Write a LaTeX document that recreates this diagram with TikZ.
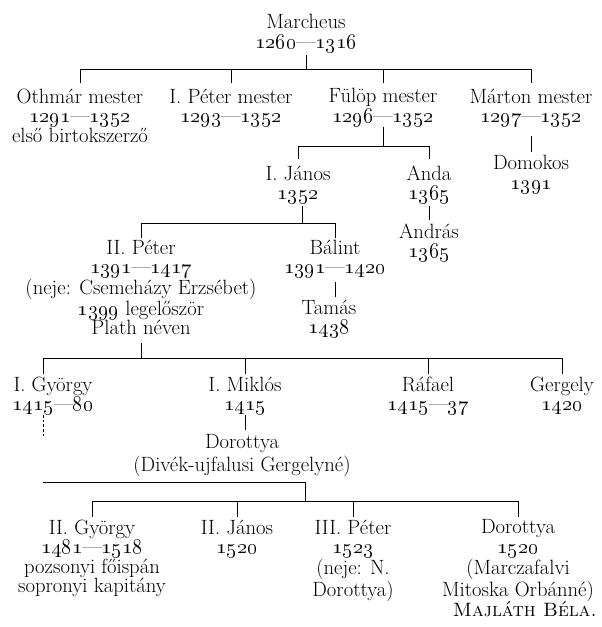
\RequirePackage{fix-cm}
\documentclass[tikz,border=0pt]{standalone}
\usepackage{tikz}

\newcommand\onum[1]{{\fontsize{15.8}{14.6}\selectfont\oldstylenums{#1}}}
\newcommand\yrspan[2]{\onum{#1}---\onum{#2}}

\tikzset{
  person/.style={anchor=north, yshift=10.22pt, align=center, inner sep=0pt,
    font=\fontsize{15.5}{14.6}\selectfont},
  link/.style={line width=0.6pt},
}

\begin{document}
\begin{tikzpicture}[x=0.75pt,y=0.75pt,yscale=-1,xscale=1]
\useasboundingbox (0,0) rectangle (601,627);

% Text Node
\node [person] (marcheus) at (306,28) {\strut Marcheus\\\yrspan{1260}{1316}};
% Text Node
\node [person] (othmar) at (80,102) {\strut Othmár mester\\\yrspan{1291}{1352}\\első birtokszerző};
\node [person] (peterI) at (231,102) {\strut I. Péter mester\\\yrspan{1293}{1352}};
\node [person] (fulop) at (383,102) {\strut Fülöp mester\\\yrspan{1296}{1352}};
\node [person] (marton) at (531,102) {\strut Márton mester\\\yrspan{1297}{1352}};
% Text Node
\node [person] (domokos) at (531,169) {\strut Domokos\\\onum{1391}};
\node [person] (janosI) at (298,179) {\strut I. János\\\onum{1352}};
\node [person] (anda) at (429,179) {\strut Anda\\\onum{1365}};
\node [person] (andras) at (429,237) {\strut András\\\onum{1365}};
% Text Node
\node [person] (peterII) at (141,253) {\strut II. Péter\\\yrspan{1391}{1417}\\(neje: Csemeházy Erzsébet)\\\onum{1399} legelőször\\Plath néven};
\node [person] (balint) at (335,253) {\strut Bálint\\\yrspan{1391}{1420}};
\node [person] (tamas) at (329,313) {\strut Tamás\\\onum{1438}};
% Text Node
\node [person] (gyorgyI) at (53,390) {\strut I. György\\\yrspan{1415}{80}};
\node [person] (miklos) at (245,390) {\strut I. Miklós\\\onum{1415}};
\node [person] (rafael) at (428,390) {\strut Ráfael\\\yrspan{1415}{37}};
\node [person] (gergely) at (562,390) {\strut Gergely\\\onum{1420}};
\node [person] (dorottyaI) at (242,448) {\strut Dorottya\\(Divék-ujfalusi Gergelyné)};
% Text Node
\node [person] (gyorgyII) at (92,533) {\strut II. György\\\yrspan{1481}{1518}\\pozsonyi főispán\\sopronyi kapitány};
\node [person] (janosII) at (237,533) {\strut II. János\\\onum{1520}};
\node [person] (peterIII) at (353,533) {\strut III. Péter\\\onum{1523}\\(neje: N.\\Dorottya)};
\node [person] (dorottyaII) at (518,533) {\strut Dorottya\\\onum{1520}\\(Marczafalvi\\Mitoska Orbánné)};
% Text Node
\node [person, anchor=north east, font=\fontsize{14.5}{14.6}\selectfont] (signature) at (597,615) {\strut\textsc{Majláth Béla.}};

% levels of the bars
\coordinate (barA) at (0,69);
\coordinate (barB) at (0,146);
\coordinate (barC) at (0,223);
\coordinate (barD) at (0,358);
\coordinate (barE) at (0,482);
\coordinate (barF) at (0,501);
\coordinate (gystem) at (43,0);
\coordinate (gyjoin) at (305,0);

%Straight Lines
\draw [link] (marcheus |- 0,55) -- (marcheus |- barA);
\draw [link] (othmar |- barA) -- (marton |- barA);
\foreach \n in {othmar,peterI,fulop,marton}
  \draw [link] (\n |- barA) -- ++(0,14);
%Straight Lines
\draw [link] (fulop |- 0,127) -- (fulop |- barB);
\draw [link] (janosI |- barB) -- (anda |- barB);
\foreach \n in {janosI,anda}
  \draw [link] (\n |- barB) -- ++(0,13);
\draw [link] (marton |- 0,136) -- (marton |- 0,152);
\draw [link] (anda |- 0,206) -- (anda |- 0,220);
%Straight Lines
\draw [link] ([xshift=3pt]janosI |- 0,206) -- ([xshift=3pt]janosI |- barC);
\draw [link] (peterII |- barC) -- (balint |- barC);
\foreach \n in {peterII,balint}
  \draw [link] (\n |- barC) -- ++(0,15);
\draw [link] (balint |- 0,282) -- (balint |- 0,297);
%Straight Lines
\draw [link] (peterII |- 0,343) -- (peterII |- barD);
\draw [link] (gystem |- barD) -- (gergely |- barD);
\foreach \n in {gystem,miklos,rafael,gergely}
  \draw [link] (\n |- barD) -- ++(0,16);
\draw [link] (miklos |- 0,415) -- (miklos |- 0,430);
\draw [link, dash pattern=on 2pt off 1.5pt] (gystem |- 0,415) -- (gystem |- 0,438);
%Straight Lines
\draw [link] (gystem |- barE) -| (gyjoin |- barF);
\draw [link] (gyorgyII |- barF) -- (dorottyaII |- barF);
\foreach \n in {gyorgyII,janosII,peterIII,dorottyaII}
  \draw [link] (\n |- barF) -- ++(0,16);

\end{tikzpicture}
\end{document}
